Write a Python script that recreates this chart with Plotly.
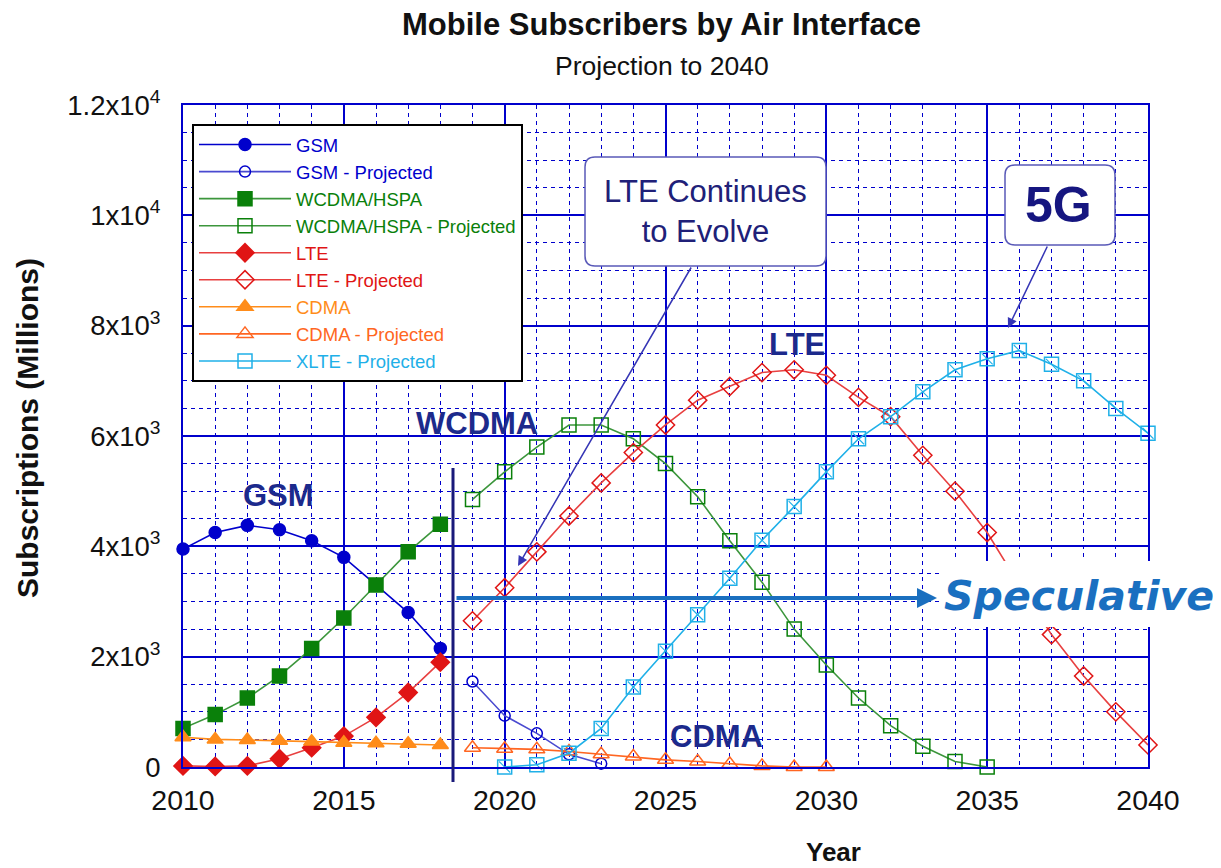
import plotly.graph_objects as go

# ---------------- data ----------------
years_hist = list(range(2010, 2019))
gsm_hist = [3950, 4250, 4380, 4300, 4100, 3800, 3300, 2800, 2150]
wcdma_hist = [700, 950, 1250, 1650, 2150, 2700, 3300, 3900, 4400]
lte_hist = [20, 10, 20, 150, 350, 560, 900, 1350, 1900]
cdma_hist = [540, 500, 490, 475, 460, 440, 430, 420, 400]

years_gsm_proj = list(range(2019, 2024))
gsm_proj = [1550, 930, 610, 230, 60]

years_wcdma_proj = list(range(2019, 2036))
wcdma_proj = [4850, 5350, 5800, 6200, 6200, 5950, 5500, 4900, 4100, 3350,
              2500, 1850, 1250, 750, 375, 100, 0]

years_lte_proj = list(range(2019, 2041))
lte_proj = [2650, 3250, 3900, 4550, 5150, 5700, 6200, 6650, 6900, 7150, 7200,
            7100, 6700, 6350, 5650, 5000, 4250, 3300, 2400, 1650, 1000, 400]

years_cdma_proj = list(range(2019, 2031))
cdma_proj = [350, 330, 320, 280, 230, 190, 130, 100, 55, 20, 0, 0]

years_xlte_proj = list(range(2020, 2041))
xlte_proj = [0, 40, 250, 700, 1450, 2100, 2760, 3420, 4110, 4720, 5350,
             5950, 6350, 6800, 7200, 7400, 7550, 7300, 7000, 6500, 6050]

y_tickvals = [0, 2000, 4000, 6000, 8000, 10000, 12000]
y_ticktext = ["0", "2x10<sup>3</sup>", "4x10<sup>3</sup>", "6x10<sup>3</sup>",
              "8x10<sup>3</sup>", "1x10<sup>4</sup>", "1.2x10<sup>4</sup>"]
x_tickvals = [2010, 2015, 2020, 2025, 2030, 2035, 2040]

# ---------------- style ----------------
C_GSM = "#0000CC"
C_WCDMA = "#0A800A"
C_LTE = "#E01515"
C_CDMA = "#FF8C1A"
C_CDMA_P = "#FF6622"
C_XLTE = "#1FB0E8"
GRID = "#0000CC"
NAVY = "#1C2A8C"
SANS = "Liberation Sans, Arial, sans-serif"

# plot area in screen pixels (page has an 8px body margin)
OFF = 8
L, R, T, B = 183, 1148, 105, 767
W, H = 1213, 860


def px(x):
    return (x - L) / (R - L)


def py(y):
    return (B - y) / (B - T)


def lname(txt, col):
    return f'<span style="color:{col}">{txt}</span>'


fig = go.Figure()

def add(xs, ys, name, color, symbol, size, line_color=None, mlw=1.5, fill=None):
    fig.add_trace(go.Scatter(
        x=xs, y=ys, mode="lines+markers", name=lname(name, color),
        line=dict(color=line_color or color, width=1.6),
        marker=dict(symbol=symbol, size=size, color=fill or color,
                    line=dict(color=color, width=mlw)),
        cliponaxis=False,
    ))

add(years_hist, gsm_hist, "GSM", C_GSM, "circle", 12)
add(years_gsm_proj, gsm_proj, "GSM - Projected", C_GSM, "circle-open", 11, line_color="#4a4ad0")
add(years_hist, wcdma_hist, "WCDMA/HSPA", C_WCDMA, "square", 14, line_color="#3c963c")
add(years_wcdma_proj, wcdma_proj, "WCDMA/HSPA - Projected", C_WCDMA, "square-open", 14, line_color="#3c963c")
add(years_hist, lte_hist, "LTE", C_LTE, "diamond", 14, line_color="#e84040")
add(years_lte_proj, lte_proj, "LTE - Projected", C_LTE, "diamond-open", 14, line_color="#e84040")
add(years_hist, cdma_hist, "CDMA", C_CDMA, "triangle-up", 14)
add(years_cdma_proj, cdma_proj, "CDMA - Projected", C_CDMA_P, "triangle-up-open", 14)
add(years_xlte_proj, xlte_proj, "XLTE - Projected", C_XLTE, "square-open", 14)
# diagonal stroke inside the XLTE squares
fig.add_trace(go.Scatter(
    x=years_xlte_proj, y=xlte_proj, mode="markers", showlegend=False,
    marker=dict(symbol="line-nw", size=11, color=C_XLTE, line=dict(color=C_XLTE, width=1.1)),
    cliponaxis=False, hoverinfo="skip",
))

# ---------------- shapes ----------------
shapes = []

def rrect(x0, y0, x1, y1, r, line_col, lw):
    X0, X1 = px(x0), px(x1)
    Y0, Y1 = py(y0), py(y1)  # Y0 top
    rx, ry = r / (R - L), r / (B - T)
    path = (f"M{X0+rx},{Y0} L{X1-rx},{Y0} Q{X1},{Y0} {X1},{Y0-ry} "
            f"L{X1},{Y1+ry} Q{X1},{Y1} {X1-rx},{Y1} L{X0+rx},{Y1} "
            f"Q{X0},{Y1} {X0},{Y1+ry} L{X0},{Y0-ry} Q{X0},{Y0} {X0+rx},{Y0} Z")
    return dict(type="path", path=path, xref="paper", yref="paper",
                fillcolor="white", line=dict(color=line_col, width=lw), layer="above")

# white area behind "Speculative"
shapes.append(dict(type="rect", xref="paper", yref="paper",
                   x0=px(940), x1=px(1221), y0=py(627), y1=py(561),
                   fillcolor="white", line=dict(width=0), layer="above"))
# rounded callout boxes
shapes.append(rrect(585, 157, 826, 266, 10, "#5A5AB8", 1.5))
shapes.append(rrect(1005, 165, 1115, 245, 10, "#5A5AB8", 1.5))
# vertical separator
shapes.append(dict(type="line", xref="paper", yref="paper",
                   x0=px(453), x1=px(453), y0=py(468), y1=py(782),
                   line=dict(color="#1A1A7A", width=3), layer="above"))

# ---------------- annotations ----------------
ann = []
ann.append(dict(text="<b>Mobile Subscribers by Air Interface</b>", xref="paper", yref="paper",
                x=px(661), y=py(25), showarrow=False, xanchor="center", yanchor="middle",
                font=dict(family=SANS, size=31, color="#111111")))
ann.append(dict(text="Projection to 2040", xref="paper", yref="paper",
                x=px(662), y=py(66), showarrow=False, xanchor="center", yanchor="middle",
                font=dict(family=SANS, size=26.5, color="#111111")))
ann.append(dict(text="<b>Year</b>", xref="paper", yref="paper",
                x=px(833), y=py(852), showarrow=False, xanchor="center", yanchor="middle",
                font=dict(family=SANS, size=26, color="#111111")))
ann.append(dict(text="<b>Subscriptions (Millions)</b>", xref="paper", yref="paper",
                x=px(27), y=py(428), showarrow=False, textangle=-90,
                xanchor="center", yanchor="middle",
                font=dict(family=SANS, size=30, color="#111111")))

# series labels
for txt, xx, yy in [("GSM", 278, 495), ("WCDMA", 477, 423), ("LTE", 797, 344), ("CDMA", 716, 736)]:
    ann.append(dict(text=f"<b>{txt}</b>", xref="paper", yref="paper", x=px(xx), y=py(yy),
                    showarrow=False, xanchor="center", yanchor="middle",
                    font=dict(family=SANS, size=31, color=NAVY)))

# callout texts
ann.append(dict(text="LTE Continues<br>to Evolve", xref="paper", yref="paper",
                x=px(705), y=py(211), showarrow=False, xanchor="center", yanchor="middle",
                font=dict(family=SANS, size=31, color="#202078")))
ann.append(dict(text="<b>5G</b>", xref="paper", yref="paper",
                x=px(1058), y=py(205), showarrow=False, xanchor="center", yanchor="middle",
                font=dict(family=SANS, size=50, color="#161680")))


def arrow(hx, hy, tx, ty, width, color, size):
    return dict(text="", xref="paper", yref="paper",
                x=px(hx), y=py(hy), ax=tx - hx, ay=ty - hy, showarrow=True,
                arrowhead=2, arrowsize=size, arrowwidth=width, arrowcolor=color)

# callout arrows
ann.append(arrow(518, 566, 692, 266, 1.5, "#3535B5", 1.3))
ann.append(arrow(1008, 328, 1048, 245, 1.5, "#3535B5", 1.3))
# speculative arrow + text
ann.append(arrow(937, 598, 455, 598, 4, "#1A6FBF", 1.0))
ann.append(dict(text="<b><i>Speculative</i></b>", xref="paper", yref="paper",
                x=px(942), y=py(596), showarrow=False, xanchor="left", yanchor="middle",
                font=dict(family="DejaVu Sans, Verdana, sans-serif", size=41, color="#1A6FC0")))

fig.update_layout(
    width=W, height=H,
    margin=dict(l=L - OFF, r=W - (R - OFF), t=T - OFF, b=H - (B - OFF)),
    paper_bgcolor="white", plot_bgcolor="white",
    shapes=shapes, annotations=ann,
    showlegend=True,
    legend=dict(x=px(192), y=py(124), xanchor="left", yanchor="top",
                bgcolor="white", bordercolor="black", borderwidth=2,
                font=dict(family=SANS, size=18.5), itemwidth=92,
                tracegroupgap=0),
    xaxis=dict(range=[2010, 2040], tickvals=x_tickvals, ticks="",
               showgrid=True, gridcolor=GRID, gridwidth=1.6,
               minor=dict(dtick=1, tick0=2010, showgrid=True, gridcolor=GRID,
                          griddash="4px,4px", gridwidth=1.4),
               showline=True, linecolor=GRID, linewidth=2, mirror=True,
               zeroline=False, ticklabelstandoff=7,
               tickfont=dict(family=SANS, size=28.5, color="#111111")),
    yaxis=dict(range=[0, 12000], tickvals=y_tickvals, ticktext=y_ticktext, ticks="",
               showgrid=True, gridcolor=GRID, gridwidth=1.6,
               minor=dict(dtick=500, tick0=0, showgrid=True, gridcolor=GRID,
                          griddash="4px,4px", gridwidth=1.4),
               showline=True, linecolor=GRID, linewidth=2, mirror=True,
               zeroline=False, ticklabelstandoff=15,
               tickfont=dict(family=SANS, size=27.5, color="#111111")),
)

fig.write_html("out.html")
